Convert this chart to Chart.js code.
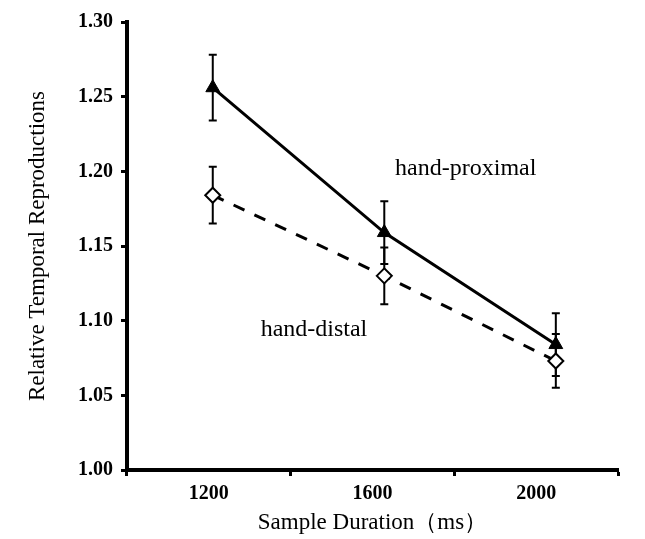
<!DOCTYPE html>
<html>
<head>
<meta charset="utf-8">
<script src="https://cdn.jsdelivr.net/npm/chart.js@4"></script>
<style>
  html, body { margin: 0; padding: 0; background: #fff; }
  #wrap { width: 645px; height: 539px; }
</style>
</head>
<body>
<div id="wrap"><canvas id="chart"></canvas></div>
<script>
// sample durations (ms)
var durations = [1200, 1600, 2000];
var durationLabels = ['1200', '1600', '2000'];

// hand-proximal
var proximal = [1.256, 1.159, 1.084];
var proximalErr = [0.022, 0.021, 0.021];

// hand-distal
var distal = [1.184, 1.130, 1.073];
var distalErr = [0.019, 0.019, 0.018];

var yTicks = [1.00, 1.05, 1.10, 1.15, 1.20, 1.25, 1.30];

// text labels placed in data coordinates
var notes = [
  { text: 'hand-proximal', x: 1790, y: 1.202 },
  { text: 'hand-distal', x: 1436, y: 1.094 }
];

var serif = "'Liberation Serif', 'Times New Roman', serif";

function points(vals) {
  return vals.map(function (v, i) { return { x: durations[i], y: v }; });
}

var errorBars = {
  id: 'errorBars',
  beforeDatasetsDraw: function (chart) {
    var ctx = chart.ctx;
    var yScale = chart.scales.y;
    ctx.save();
    ctx.strokeStyle = '#000';
    ctx.lineWidth = 2;
    chart.data.datasets.forEach(function (ds, di) {
      var meta = chart.getDatasetMeta(di);
      meta.data.forEach(function (pt, i) {
        var v = ds.data[i].y, e = ds.errors[i];
        var top = yScale.getPixelForValue(v + e);
        var bot = yScale.getPixelForValue(v - e);
        ctx.beginPath();
        ctx.moveTo(pt.x, top); ctx.lineTo(pt.x, bot);
        ctx.moveTo(pt.x - 4, top); ctx.lineTo(pt.x + 4, top);
        ctx.moveTo(pt.x - 4, bot); ctx.lineTo(pt.x + 4, bot);
        ctx.stroke();
      });
    });
    ctx.restore();
  }
};

var noteText = {
  id: 'noteText',
  afterDraw: function (chart) {
    var ctx = chart.ctx;
    var xs = chart.scales.x2, ys = chart.scales.y;
    ctx.save();
    ctx.fillStyle = '#000';
    ctx.font = '24px ' + serif;
    ctx.textAlign = 'center';
    ctx.textBaseline = 'middle';
    notes.forEach(function (n) {
      ctx.fillText(n.text, xs.getPixelForValue(n.x), ys.getPixelForValue(n.y));
    });
    ctx.restore();
  }
};

new Chart(document.getElementById('chart').getContext('2d'), {
  type: 'line',
  data: {
    datasets: [{
      label: 'hand-proximal',
      data: points(proximal),
      errors: proximalErr,
      xAxisID: 'x2',
      borderColor: '#000',
      borderWidth: 3,
      pointStyle: 'triangle',
      pointRadius: 8,
      pointBackgroundColor: '#000',
      pointBorderColor: '#000',
      pointBorderWidth: 1
    }, {
      label: 'hand-distal',
      data: points(distal),
      errors: distalErr,
      xAxisID: 'x2',
      borderColor: '#000',
      borderWidth: 3,
      borderDash: [12, 11],
      pointStyle: 'rectRot',
      pointRadius: 7.5,
      pointBackgroundColor: '#fff',
      pointBorderColor: '#000',
      pointBorderWidth: 2
    }]
  },
  options: {
    responsive: true,
    maintainAspectRatio: false,
    animation: false,
    layout: { padding: { top: 22, right: 27, bottom: 0, left: 0 } },
    plugins: {
      legend: { display: false },
      tooltip: { enabled: false }
    },
    scales: {
      x: {
        type: 'category',
        labels: durationLabels,
        offset: true,
        border: { color: '#000', width: 4 },
        grid: { offset: true, drawOnChartArea: false, drawTicks: true, tickLength: 6, tickWidth: 3, tickColor: '#000' },
        ticks: { color: '#000', padding: 6, font: { family: serif, size: 20, weight: 'bold' } },
        title: {
          display: true,
          text: 'Sample Duration（ms）',
          color: '#000',
          font: { family: serif, size: 23 },
          padding: { top: 0, bottom: 2 }
        },
        afterFit: function (s) { s.height = 69; }
      },
      x2: {
        type: 'linear',
        display: false,
        min: 1000,
        max: 2145
      },
      y: {
        min: 1.0,
        max: 1.3,
        border: { color: '#000', width: 4 },
        grid: { drawOnChartArea: false, drawTicks: true, tickLength: 6, tickWidth: 3, tickColor: '#000' },
        afterBuildTicks: function (s) { s.ticks = yTicks.map(function (v) { return { value: v }; }); },
        ticks: {
          color: '#000',
          padding: 8,
          font: { family: serif, size: 20, weight: 'bold' },
          callback: function (v) { return Number(v).toFixed(2); }
        },
        title: {
          display: true,
          text: 'Relative Temporal Reproductions',
          color: '#000',
          font: { family: serif, size: 23 },
          padding: { top: 24, bottom: 0 }
        },
        afterFit: function (s) { s.width = 127; }
      }
    }
  },
  plugins: [errorBars, noteText]
});
</script>
</body>
</html>
